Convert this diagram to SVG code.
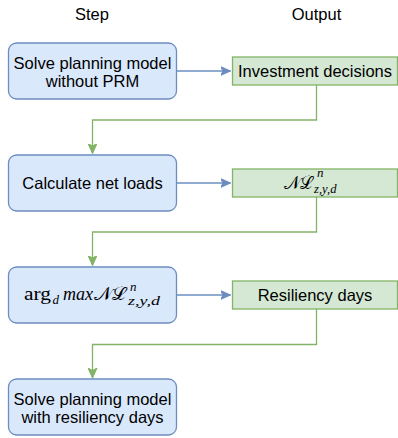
<svg xmlns="http://www.w3.org/2000/svg" width="398" height="438" viewBox="0 0 398 438">
<style>
.step{fill:#dae8fc;stroke:#6c8ebf;stroke-width:1.3}
.out{fill:#d5e8d4;stroke:#82b366;stroke-width:1.3}
.t{font-family:"Liberation Sans",Arial,sans-serif;font-size:16.5px;fill:#000;text-anchor:middle}
.m{font-family:"Liberation Serif","DejaVu Serif",serif;font-size:19px;fill:#000}
.mi{font-style:italic}
.s{font-family:"Liberation Serif","DejaVu Serif",serif;font-size:13px;font-style:italic;fill:#000}
.blue{fill:none;stroke:#6c8ebf;stroke-width:1.3}
.green{fill:none;stroke:#82b366;stroke-width:1.3}
</style>
<defs>
<marker id="ab" markerWidth="12" markerHeight="10" refX="10" refY="5" orient="auto" markerUnits="userSpaceOnUse">
<path d="M0,0.5 L10,5 L0,9.5 L2.5,5 Z" fill="#6c8ebf" stroke="#6c8ebf" stroke-width="1"/>
</marker>
<marker id="ag" markerWidth="12" markerHeight="10" refX="10" refY="5" orient="auto" markerUnits="userSpaceOnUse">
<path d="M0,0.5 L10,5 L0,9.5 L2.5,5 Z" fill="#82b366" stroke="#82b366" stroke-width="1"/>
</marker>
</defs>
<g id="headers">
<text class="t" x="92" y="20">Step</text>
<text class="t" x="316.5" y="20">Output</text>
</g>
<g id="connectors">
<path class="blue" d="M176.5,71 H230.5" marker-end="url(#ab)"/>
<path class="blue" d="M176.5,183 H230.5" marker-end="url(#ab)"/>
<path class="blue" d="M176.5,295 H230.5" marker-end="url(#ab)"/>
<path class="green" d="M316.5,85 V120 H92.5 V153.5" marker-end="url(#ag)"/>
<path class="green" d="M316.5,197 V232 H92.5 V265.5" marker-end="url(#ag)"/>
<path class="green" d="M316.5,309 V344.5 H92.5 V378" marker-end="url(#ag)"/>
</g>
<g id="step1">
<rect class="step" x="8.5" y="43" width="168" height="56" rx="8"/>
<text class="t" x="92.5" y="69">Solve planning model</text>
<text class="t" x="92.5" y="87">without PRM</text>
</g>
<g id="out1">
<rect class="out" x="232.5" y="57" width="165" height="28"/>
<text class="t" x="315" y="76.5">Investment decisions</text>
</g>
<g id="step2">
<rect class="step" x="8.5" y="155" width="168" height="56" rx="8"/>
<text class="t" x="92.5" y="188.5">Calculate net loads</text>
</g>
<g id="out2">
<rect class="out" x="232.5" y="169" width="165" height="28"/>
<text class="m" x="284" y="188.5" textLength="29" lengthAdjust="spacingAndGlyphs">𝒩ℒ</text>
<text class="s" x="317" y="177">n</text>
<text class="s" x="314" y="192.5" textLength="22.5" lengthAdjust="spacingAndGlyphs">z,y,d</text>
</g>
<g id="step3">
<rect class="step" x="8.5" y="267" width="168" height="56" rx="8"/>
<text class="m" x="24" y="300" textLength="27" lengthAdjust="spacingAndGlyphs">arg</text>
<text class="s" x="52.5" y="304">d</text>
<text class="m mi" x="63" y="300" textLength="30" lengthAdjust="spacingAndGlyphs">max</text>
<text class="m" x="94" y="300" textLength="32" lengthAdjust="spacingAndGlyphs">𝒩ℒ</text>
<text class="s" x="130" y="290.5">n</text>
<text class="s" x="128" y="305" textLength="32" lengthAdjust="spacingAndGlyphs">z,y,d</text>
</g>
<g id="out3">
<rect class="out" x="232.5" y="281" width="165" height="28"/>
<text class="t" x="315" y="300.5">Resiliency days</text>
</g>
<g id="step4">
<rect class="step" x="8.5" y="379" width="168" height="56" rx="8"/>
<text class="t" x="92.5" y="405">Solve planning model</text>
<text class="t" x="92.5" y="423">with resiliency days</text>
</g>
</svg>
